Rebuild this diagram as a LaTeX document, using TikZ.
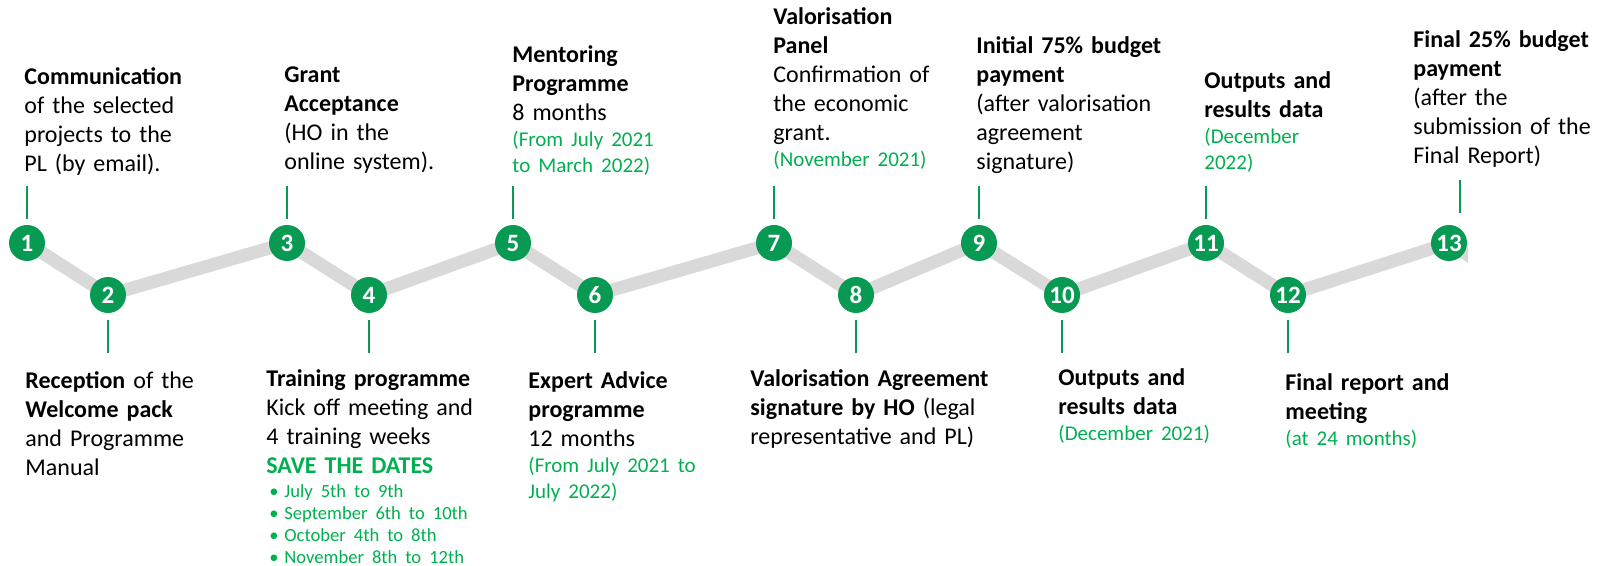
\documentclass[tikz,border=0pt]{standalone}
\usepackage{fontspec}
\setmainfont{Carlito}
\usetikzlibrary{backgrounds}
\definecolor{dgreen}{RGB}{8,154,82}
\definecolor{lgreen}{RGB}{0,176,80}
\definecolor{trackgray}{RGB}{217,217,217}
\newcommand{\dates}{\color{lgreen}\fontsize{10.5}{13}\selectfont}
\newcommand{\fl}{\rule{0pt}{10pt}}
\newcommand{\bul}{\hspace*{1.5pt}\makebox[7.5pt][l]{•}}
\begin{document}
\begin{tikzpicture}[x=0.5pt,y=-0.5pt,
  num/.style={circle,fill=dgreen,text=white,minimum size=18pt,inner sep=0pt,
    font=\bfseries\fontsize{12.5}{14}\selectfont},
  tickline/.style={draw=dgreen,line width=1pt},
  trackline/.style={draw=trackgray,line width=6.5pt},
  desc/.style={anchor=north west,inner sep=0pt,align=left,text width=130pt,
    font=\fontsize{12}{14.5}\selectfont}]
\useasboundingbox (0,0) rectangle (1600,566);

% milestones
\node[num] (n1)  at (27,243)   {1};
\node[num] (n2)  at (108,295)  {2};
\node[num] (n3)  at (287,243)  {3};
\node[num] (n4)  at (369,295)  {4};
\node[num] (n5)  at (513,243)  {5};
\node[num] (n6)  at (595,295)  {6};
\node[num] (n7)  at (774,243)  {7};
\node[num] (n8)  at (856,295)  {8};
\node[num] (n9)  at (979,243)  {9};
\node[num] (n10) at (1062,295) {10};
\node[num] (n11) at (1206,243) {11};
\node[num] (n12) at (1288,295) {12};
\node[num] (n13) at (1449,243) {13};

% track
\begin{scope}[on background layer]
  \clip (0,0) rectangle (1468,566);
  \draw[trackline] (n1.center) -- (n2.center) -- (n3.center) -- (n4.center)
    -- (n5.center) -- (n6.center) -- (n7.center) -- (n8.center) -- (n9.center)
    -- (n10.center) -- (n11.center) -- (n12.center) -- (n13.center) -- ++(82,52);
\end{scope}

% ticks
\foreach \n in {n1,n3,n5,n7,n9,n11}
  \draw[tickline] ([yshift=3pt]\n.north) -- ++(0,-33);
\draw[tickline] ([xshift=5.5pt,yshift=6pt]n13.north) -- ++(0,-33);
\foreach \n in {n2,n4,n6,n8,n10,n12}
  \draw[tickline] ([yshift=-3.5pt]\n.south) -- ++(0,33);

% upper texts
\node[desc] (t1) at (24,64) {\fl\textbf{Communication}\\of the selected\\projects to the\\PL (by email).};
\node[desc] (t3) at (284,62) {\fl\textbf{Grant}\\\textbf{Acceptance}\\(HO in the\\online system).};
\node[desc] (t5) at (512,42) {\fl\textbf{Mentoring}\\\textbf{Programme}\\8 months\par{\dates (From July 2021\\to March 2022)\par}};
\node[desc] (t7) at (773,4) {\fl\textbf{Valorisation}\\\textbf{Panel}\\Confirmation of\\the economic\\grant.\par{\dates (November 2021)\par}};
\node[desc] (t9) at (976,33) {\fl\textbf{Initial 75\% budget}\\\textbf{payment}\\(after valorisation\\agreement\\signature)};
\node[desc] (t11) at (1204,68) {\fl\textbf{Outputs and}\\\textbf{results data}\par{\dates (December\\2022)\par}};
\node[desc] (t13) at (1413,27) {\fl\textbf{Final 25\% budget}\\\textbf{payment}\\(after the\\submission of the\\Final Report)};

% lower texts
\node[desc] (t2) at (25,368) {\fl\textbf{Reception} of the\\\textbf{Welcome pack}\\and Programme\\Manual};
\node[desc] (t4) at (266,366) {\fl\textbf{Training programme}\\Kick off meeting and\\4 training weeks\par{\color{lgreen}\bfseries SAVE THE DATES\par}\vspace{1pt}{\color{lgreen}\fontsize{9.3}{11}\selectfont\bul July 5th to 9th\\\bul September 6th to 10th\\\bul October 4th to 8th\\\bul November 8th to 12th\par}};
\node[desc] (t6) at (528,368) {\fl\textbf{Expert Advice}\\\textbf{programme}\\12 months\par{\dates (From July 2021 to\\July 2022)\par}};
\node[desc] (t8) at (750,366) {\fl\makebox[119pt][l]{\textbf{Valorisation}\hfill\textbf{Agreement}}\\\textbf{signature by HO} (legal\\representative and PL)};
\node[desc] (t10) at (1058,365) {\fl\textbf{Outputs and}\\\textbf{results data}\par{\dates (December 2021)\par}};
\node[desc] (t12) at (1285,370) {\fl\textbf{Final report and}\\\textbf{meeting}\par{\dates (at 24 months)\par}};
\end{tikzpicture}
\end{document}
